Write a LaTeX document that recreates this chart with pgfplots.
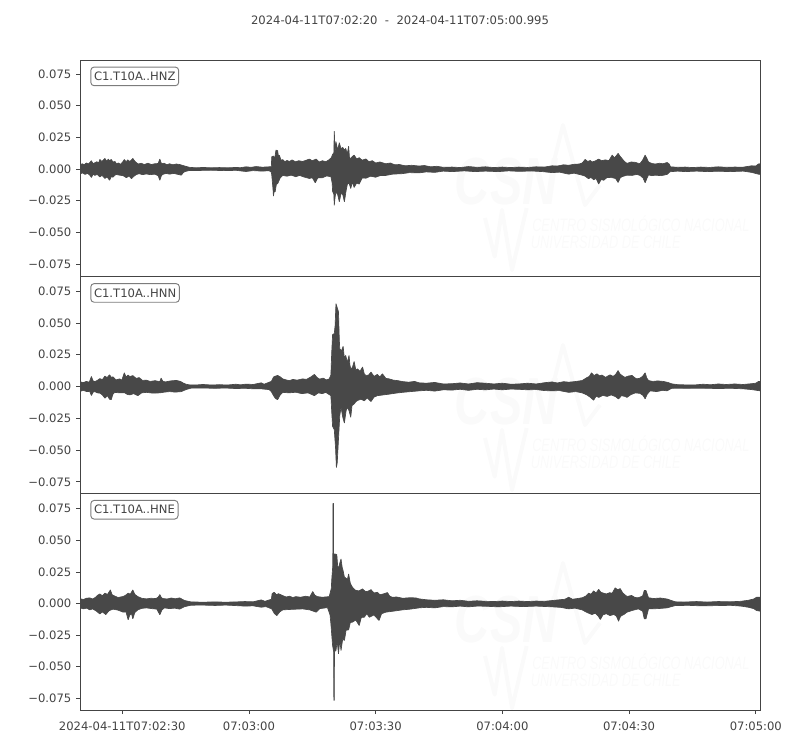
\documentclass[border=0pt]{standalone}
\usepackage{pgfplots}
\pgfplotsset{compat=1.18}
\usepackage{fontspec}
\setmainfont{DejaVu Sans}
\newfontfamily\wmfont{Liberation Sans}
\definecolor{trace}{HTML}{484848}
\definecolor{ink}{HTML}{444444}
\definecolor{wmark}{HTML}{FAFAFA}

\pgfplotsset{
  panel/.style={
    scale only axis,
    width=510pt,
    height=162.4pt,
    xmin=0, xmax=160.995,
    axis line style={ink, line width=0.7pt},
    tick style={ink, line width=0.6pt},
    tick align=outside,
    major tick length=3pt,
    scaled y ticks=false,
    ytick={-0.075,-0.05,-0.025,0,0.025,0.05,0.075},
    yticklabels={−0.075,−0.050,−0.025,0.000,0.025,0.050,0.075},
    ticklabel style={font=\fontsize{8.7}{10}\selectfont, text=ink},
    xticklabel style={yshift=-2.2pt},
    ytick pos=left,
    clip=true,
  },
  trc/.style={fill=trace, draw=trace, line width=0.5pt, line join=bevel, mark=none},
}
\tikzset{
  stn/.style={draw=ink!70, rounded corners=2.5pt, line width=0.7pt, fill=white,
    font=\fontsize{8.7}{10}\selectfont, text=ink, inner xsep=2.4pt, inner ysep=3.7pt,
    anchor=north west},
}
% faint logo behind each panel, dy in pt from the first panel
\newcommand{\wm}[1]{%
  \begin{scope}[yshift=#1]
    \node[text=wmark, font=\wmfont\bfseries\itshape\fontsize{50}{50}\selectfont, anchor=west, inner sep=0pt] at (341pt,426.7pt) {\scalebox{.73}[1]{CSN}};
    \draw[wmark, line width=3pt, line join=round] (414.7pt,438.7pt) -- (422.2pt,468.7pt) -- (438.7pt,408.7pt) -- (450pt,423.7pt);
    \draw[wmark, line width=3pt, line join=round] (363.7pt,399pt) -- (371pt,370pt) -- (376.5pt,405pt) -- (384pt,360pt) -- (395pt,406.5pt);
    \node[text=wmark, font=\wmfont\itshape\fontsize{13.5}{13.5}\selectfont, anchor=west, inner sep=0pt] at (399pt,395pt) {\scalebox{.71}[1]{CENTRO SISMOLÓGICO NACIONAL}};
    \node[text=wmark, font=\wmfont\itshape\fontsize{13.5}{13.5}\selectfont, anchor=west, inner sep=0pt] at (398pt,381pt) {\scalebox{.71}[1]{UNIVERSIDAD DE CHILE}};
  \end{scope}}

\begin{document}
\begin{tikzpicture}[x=1pt,y=1pt]
\path[use as bounding box] (0,0) rectangle (600pt,562.5pt);
\wm{0pt}
\wm{-165pt}
\wm{-328.5pt}
\node[text=ink, font=\fontsize{8.7}{10}\selectfont] at (300pt,547pt) {2024-04-11T07:02:20\ \ -\ \ 2024-04-11T07:05:00.995};

% envelopes of the traces, x in seconds after 07:02:20
\begin{axis}[panel, at={(60pt,355pt)}, anchor=south west, ymin=-0.0849, ymax=0.0860, xtick=\empty]
\addplot[trc] coordinates {(0,.0030)(.5,.0042)(1,.0035)(1.5,.0048)(2,.0040)(2.7,.0066)(3.1,.0042)(3.5,.0050)(4,.0058)(4.4,.0048)(4.7,.0076)(5.2,.0060)(5.9,.0084)(6.3,.0062)(6.7,.0078)(7,.0066)(7.4,.0076)(7.8,.0056)(8.3,.0060)(8.6,.0042)(9.1,.0048)(9.6,.0038)(10.1,.0056)(10.5,.0076)(10.9,.0058)(11.3,.0072)(11.8,.0060)(12.5,.0084)(12.9,.0066)(13.3,.0052)(13.8,.0040)(14.5,.0046)(15.2,.0036)(16.1,.0046)(16.9,.0036)(17.7,.0042)(18.5,.0044)(18.9,.0079)(19.3,.0042)(19.9,.0046)(20.6,.0034)(21.2,.0042)(22,.0034)(22.8,.0040)(23.6,.0036)(24.2,.0030)(24.8,.0024)(25.9,.0014)(27.5,.0010)(29.1,.0013)(31,.0010)(33,.0012)(35,.0010)(36.9,.0013)(38,.0011)(39.3,.0018)(40.5,.0014)(41.7,.0020)(43.2,.0015)(44.8,.0018)(45.3,.0020)(45.4,.0097)(45.8,.0103)(46.1,.0085)(46.4,.0150)(46.8,.0145)(47,.0095)(47.2,.0110)(47.6,.0070)(48,.0075)(48.5,.0058)(49,.0068)(49.6,.0060)(50.2,.0072)(51,.0058)(51.8,.0066)(52.7,.0060)(53.4,.0068)(54.3,.0079)(55,.0066)(55.9,.0079)(56.6,.0056)(57.4,.0066)(58.2,.0058)(59,.0074)(59.5,.0090)(59.8,.0115)(60.1,.0130)(60.2,.0300)(60.4,.0130)(60.6,.0216)(61,.0150)(61.4,.0208)(61.8,.0160)(62.2,.0171)(62.6,.0150)(62.9,.0163)(63.3,.0120)(63.6,.0181)(63.8,.0090)(64.1,.0084)(64.5,.0100)(64.9,.0110)(65.5,.0080)(66.1,.0090)(66.8,.0070)(67.7,.0080)(68.4,.0058)(69.2,.0066)(70,.0048)(71,.0056)(72.4,.0042)(73.5,.0048)(74.5,.0034)(75.6,.0036)(77,.0026)(78.5,.0030)(80.3,.0024)(81.5,.0028)(83,.0018)(84.5,.0022)(86,.0014)(88.1,.0016)(90,.0012)(92,.0020)(94,.0014)(96,.0018)(98,.0012)(100,.0016)(102,.0012)(103.9,.0016)(106,.0013)(108,.0018)(110,.0016)(111.8,.0026)(113,.0024)(114.5,.0034)(115.7,.0030)(117,.0038)(118.2,.0040)(118.9,.0048)(119.6,.0076)(120.2,.0060)(120.8,.0068)(121.2,.0056)(122,.0064)(122.8,.0079)(123.5,.0066)(124.4,.0073)(125.2,.0066)(126,.0110)(126.5,.0090)(127,.0106)(127.4,.0124)(127.9,.0100)(128.3,.0084)(128.9,.0060)(129.5,.0045)(130.5,.0056)(131.5,.0053)(132.1,.0046)(132.6,.0044)(133.2,.0070)(133.8,.0110)(134.2,.0085)(134.6,.0056)(135.4,.0044)(136.2,.0040)(137.2,.0046)(138,.0042)(139,.0052)(139.5,.0040)(139.8,.0018)(141.5,.0014)(143.3,.0016)(145,.0012)(147,.0016)(149,.0013)(151.1,.0018)(153,.0014)(155,.0016)(157,.0015)(159,.0026)(160,.0024)(160.6,.0040)(160.995,.0042)} \closedcycle;
\addplot[trc] coordinates {(0,-.0039)(.6,-.0030)(1.2,-.0042)(1.8,-.0034)(2.3,-.0047)(2.7,-.0066)(3.1,-.0040)(3.5,-.0050)(4.1,-.0042)(4.7,-.0062)(5.2,-.0050)(5.9,-.0074)(6.4,-.0062)(7,-.0088)(7.4,-.0060)(7.8,-.0064)(8.5,-.0042)(9.4,-.0048)(10.2,-.0052)(11,-.0068)(11.6,-.0054)(12.2,-.0076)(12.8,-.0056)(13.3,-.0044)(14,-.0036)(14.8,-.0044)(15.7,-.0038)(16.6,-.0044)(17.7,-.0040)(18.5,-.0052)(18.9,-.0088)(19.3,-.0050)(19.6,-.0042)(20.4,-.0034)(21.2,-.0040)(22.2,-.0034)(23.2,-.0042)(24,-.0048)(24.4,-.0030)(24.8,-.0020)(25.9,-.0011)(28,-.0011)(31,-.0009)(34,-.0012)(37,-.0010)(38.2,-.0015)(39.3,-.0019)(41,-.0012)(43,-.0016)(44.8,-.0013)(45.3,-.0025)(45.4,-.0047)(45.7,-.0160)(45.8,-.0213)(46,-.0170)(46.2,-.0180)(46.5,-.0120)(46.8,-.0115)(47.4,-.0070)(48,-.0050)(49,-.0056)(50,-.0048)(51.1,-.0060)(52,-.0050)(53,-.0062)(54.3,-.0074)(55,-.0068)(55.7,-.0108)(56.3,-.0070)(57.4,-.0068)(58.4,-.0054)(59.4,-.0060)(59.7,-.0110)(59.8,-.0175)(60.1,-.0200)(60.2,-.0287)(60.4,-.0220)(60.6,-.0180)(61,-.0200)(61.4,-.0258)(61.8,-.0192)(62.2,-.0200)(62.6,-.0258)(63,-.0170)(63.3,-.0120)(63.7,-.0110)(64.1,-.0153)(64.5,-.0100)(64.9,-.0145)(65.5,-.0110)(66.1,-.0118)(66.8,-.0070)(67.7,-.0072)(68.8,-.0056)(70,-.0064)(71.2,-.0050)(72.4,-.0050)(74,-.0040)(76.3,-.0036)(78,-.0028)(80.3,-.0030)(82,-.0022)(84,-.0026)(86,-.0016)(88.1,-.0020)(91,-.0014)(93.5,-.0020)(96,-.0016)(99,-.0020)(101.5,-.0014)(103.9,-.0018)(107,-.0015)(109.5,-.0020)(111.8,-.0028)(113.5,-.0024)(115.7,-.0040)(117,-.0032)(118.9,-.0048)(119.6,-.0056)(120.4,-.0076)(121,-.0066)(121.6,-.0084)(122.2,-.0074)(122.8,-.0118)(123.4,-.0082)(124,-.0088)(124.8,-.0066)(126,-.0068)(126.8,-.0074)(127.4,-.0106)(127.9,-.0070)(128.3,-.0060)(129.5,-.0048)(130.7,-.0050)(131.8,-.0042)(132.6,-.0050)(133.3,-.0070)(133.8,-.0108)(134.2,-.0075)(134.6,-.0046)(135.4,-.0052)(136.2,-.0048)(137.6,-.0052)(139,-.0042)(139.7,-.0021)(141.5,-.0016)(143.3,-.0020)(146,-.0016)(148.5,-.0020)(151.1,-.0017)(154,-.0020)(157,-.0016)(159,-.0026)(160.6,-.0040)(160.995,-.0042)} \closedcycle;
\node[stn] at (rel axis cs:0.0152,0.97) {C1.T10A..HNZ};
\end{axis}

\begin{axis}[panel, at={(60pt,192.6pt)}, anchor=south west, ymin=-0.0839, ymax=0.0864, xtick=\empty]
\addplot[trc] coordinates {(0,.0039)(.7,.0030)(1.5,.0040)(2.2,.0034)(2.7,.0079)(3.1,.0044)(3.5,.0038)(4.1,.0048)(4.7,.0062)(5.3,.0054)(5.9,.0082)(6.4,.0070)(7,.0092)(7.4,.0072)(7.8,.0076)(8.5,.0052)(9.4,.0060)(9.9,.0050)(10.5,.0108)(10.9,.0074)(11.4,.0090)(11.8,.0078)(12.5,.0086)(13.3,.0064)(14,.0070)(14.8,.0048)(15.7,.0050)(16.6,.0040)(17.8,.0046)(18.9,.0038)(19.2,.0066)(19.6,.0042)(20.2,.0036)(21.4,.0044)(22.8,.0048)(23.8,.0040)(24.4,.0028)(25.1,.0018)(25.9,.0013)(27.5,.0012)(29.1,.0016)(31,.0012)(33,.0014)(35,.0012)(36.9,.0018)(38,.0013)(39.3,.0019)(41,.0016)(42.9,.0029)(43.6,.0018)(44.8,.0034)(45.3,.0040)(45.8,.0074)(46.3,.0082)(46.8,.0087)(47.4,.0076)(48,.0060)(48.8,.0052)(49.6,.0046)(50.4,.0056)(51.4,.0050)(52.7,.0060)(53.6,.0056)(54.6,.0074)(55.5,.0095)(56.1,.0072)(56.7,.0058)(57.6,.0066)(58.3,.0052)(59,.0060)(59.4,.0090)(59.6,.0271)(59.8,.0408)(60.2,.0416)(60.4,.0480)(60.6,.0652)(60.9,.0620)(61.2,.0587)(61.4,.0360)(61.5,.0297)(61.9,.0280)(62.3,.0316)(62.6,.0220)(62.9,.0245)(63.3,.0190)(63.7,.0245)(63.9,.0170)(64.1,.0139)(64.5,.0150)(64.9,.0197)(65.3,.0130)(65.7,.0139)(66.3,.0120)(66.9,.0153)(67.3,.0100)(67.7,.0087)(68.3,.0090)(68.9,.0113)(69.6,.0080)(70.4,.0095)(71,.0076)(71.6,.0100)(72.4,.0064)(73.2,.0060)(74.2,.0050)(75.3,.0046)(76.3,.0039)(77.8,.0034)(79.2,.0040)(80.3,.0029)(82,.0026)(84,.0032)(86,.0020)(88.1,.0022)(90,.0028)(92,.0020)(94,.0030)(96,.0026)(98,.0020)(100,.0026)(102,.0018)(103.9,.0020)(106,.0026)(108,.0020)(110,.0030)(111.8,.0036)(113,.0028)(114.5,.0038)(115.7,.0034)(117,.0038)(118.9,.0047)(120,.0070)(120.6,.0080)(121.1,.0108)(121.7,.0086)(122.4,.0100)(123,.0084)(123.6,.0090)(124.4,.0072)(125.5,.0092)(126.2,.0080)(126.8,.0094)(127.4,.0126)(127.8,.0100)(128.3,.0087)(129,.0072)(129.8,.0082)(130.7,.0087)(131.3,.0070)(131.8,.0060)(132.6,.0066)(133.2,.0080)(133.8,.0108)(134.2,.0066)(134.6,.0047)(135.6,.0040)(136.8,.0044)(138.1,.0040)(139.2,.0032)(140.1,.0021)(141.6,.0014)(143.3,.0013)(145.5,.0012)(147.5,.0018)(149.3,.0014)(151.1,.0020)(153,.0016)(155,.0020)(157,.0016)(159,.0022)(160,.0026)(160.6,.0039)(160.995,.0040)} \closedcycle;
\addplot[trc] coordinates {(0,-.0039)(.8,-.0030)(1.6,-.0040)(2.3,-.0038)(2.7,-.0071)(3.1,-.0044)(3.5,-.0040)(4.1,-.0050)(4.7,-.0052)(5.3,-.0066)(5.9,-.0092)(6.5,-.0072)(7.0,-.0100)(7.4,-.0103)(7.8,-.0060)(8.2,-.0046)(9.4,-.0050)(10.6,-.0050)(11.2,-.0062)(11.8,-.0066)(12.7,-.0056)(13.7,-.0072)(14.6,-.0050)(15.7,-.0046)(17.2,-.0052)(18.9,-.0050)(20,-.0044)(21.2,-.0040)(22.6,-.0044)(24,-.0040)(25.1,-.0024)(26.3,-.0013)(29,-.0012)(32,-.0014)(34.5,-.0012)(36.9,-.0016)(39,-.0014)(41,-.0018)(42.9,-.0018)(44,-.0022)(44.8,-.0024)(45.3,-.0040)(45.8,-.0071)(46.3,-.0095)(46.8,-.0103)(47.4,-.0066)(48,-.0046)(49.5,-.0050)(51.1,-.0045)(52.5,-.0056)(54,-.0050)(55.5,-.0072)(56.4,-.0050)(57.4,-.0056)(58.2,-.0046)(59.4,-.0072)(59.6,-.0200)(59.8,-.0313)(60.2,-.0339)(60.5,-.0480)(60.7,-.0637)(60.9,-.0600)(61.2,-.0413)(61.5,-.0230)(61.8,-.0163)(62.2,-.0240)(62.6,-.0287)(63,-.0190)(63.3,-.0163)(63.7,-.0190)(64.1,-.0242)(64.4,-.0150)(64.9,-.0137)(65.3,-.0120)(65.7,-.0110)(66.5,-.0100)(67.3,-.0112)(68,-.0090)(68.9,-.0118)(69.6,-.0084)(70.4,-.0072)(71.8,-.0066)(73.2,-.0060)(74.8,-.0052)(76.3,-.0046)(78.3,-.0040)(80.3,-.0034)(82,-.0030)(84,-.0036)(86,-.0026)(88.1,-.0028)(90,-.0022)(92,-.0030)(94,-.0022)(96,-.0026)(98,-.0020)(100,-.0026)(102,-.0020)(103.9,-.0022)(106,-.0026)(108,-.0024)(110,-.0032)(111.8,-.0034)(113.5,-.0032)(115.7,-.0046)(117.4,-.0040)(118.9,-.0050)(120,-.0066)(120.8,-.0084)(121.6,-.0108)(122.2,-.0076)(122.8,-.0086)(123.8,-.0070)(124.8,-.0078)(125.8,-.0066)(126.8,-.0080)(127.5,-.0098)(128.2,-.0072)(129,-.0078)(129.5,-.0086)(130.4,-.0064)(131.5,-.0050)(132.6,-.0054)(133.3,-.0070)(133.8,-.0097)(134.3,-.0060)(135,-.0034)(136.5,-.0040)(138,-.0030)(139,-.0034)(140.1,-.0014)(141.6,-.0013)(143.3,-.0014)(147,-.0013)(151.1,-.0016)(154,-.0014)(157,-.0018)(159,-.0024)(160.6,-.0032)(160.995,-.0034)} \closedcycle;
\node[stn] at (rel axis cs:0.0152,0.97) {C1.T10A..HNN};
\end{axis}

\begin{axis}[panel, at={(60pt,30pt)}, anchor=south west, ymin=-0.0842, ymax=0.0871,
  xtick={10,40,70,100,130,160},
  xticklabels={2024-04-11T07:02:30,07:03:00,07:03:30,07:04:00,07:04:30,07:05:00},
  xtick pos=bottom]
\addplot[trc] coordinates {(0,.0039)(.8,.0032)(1.5,.0042)(2.3,.0045)(3,.0036)(3.7,.0050)(4.2,.0066)(4.7,.0076)(5.3,.0062)(5.9,.0082)(6.5,.0072)(7.2,.0108)(7.6,.0070)(8.2,.0060)(9,.0048)(9.6,.0052)(10.2,.0056)(10.8,.0066)(11.4,.0082)(11.9,.0074)(12.5,.0108)(13,.0072)(13.7,.0055)(14.6,.0042)(15.7,.0037)(16.8,.0042)(18,.0040)(18.5,.0050)(18.9,.0071)(19.3,.0046)(19.6,.0040)(20.6,.0036)(21.6,.0044)(22.6,.0038)(23.6,.0045)(24.2,.0034)(24.8,.0024)(26.3,.0013)(29,.0011)(32,.0013)(34.5,.0011)(36.9,.0013)(39,.0016)(41,.0014)(42.9,.0029)(43.8,.0018)(45.3,.0034)(45.5,.0080)(46,.0089)(46.5,.0070)(47,.0078)(48,.0063)(48.8,.0052)(49.6,.0058)(50.4,.0048)(51.1,.0055)(52.2,.0050)(53.4,.0058)(54.4,.0052)(55.1,.0095)(55.6,.0066)(56.2,.0055)(57.4,.0050)(59,.0055)(59.5,.0120)(59.6,.0187)(59.85,.0300)(59.9,.0792)(60,.0792)(60.05,.0392)(60.4,.0392)(60.8,.0387)(61,.0300)(61.2,.0274)(61.5,.0320)(61.8,.0353)(62.1,.0280)(62.3,.0260)(62.6,.0210)(62.9,.0203)(63.3,.0190)(63.6,.0234)(64,.0160)(64.5,.0129)(65.2,.0106)(66,.0100)(66.9,.0116)(67.6,.0094)(68.2,.0098)(68.9,.0110)(69.6,.0084)(70.4,.0089)(71,.0070)(71.8,.0076)(72.8,.0087)(73.3,.0060)(73.9,.0050)(75,.0052)(76.4,.0042)(78,.0046)(79.5,.0045)(80.3,.0037)(82,.0030)(84,.0026)(86,.0030)(88.1,.0022)(90,.0026)(92,.0018)(94,.0022)(96,.0018)(98,.0016)(100,.0020)(102,.0016)(103.9,.0020)(106,.0016)(108,.0020)(110,.0018)(111.8,.0024)(113.5,.0030)(114.8,.0034)(115.7,.0050)(116.6,.0034)(117.8,.0040)(118.9,.0046)(119.7,.0058)(120.4,.0082)(121,.0074)(121.6,.0100)(122.2,.0084)(122.8,.0113)(123.3,.0090)(124,.0082)(124.6,.0076)(125.4,.0086)(126,.0082)(126.7,.0124)(127.3,.0110)(127.9,.0118)(128.5,.0084)(129.5,.0056)(130.6,.0064)(131.4,.0048)(132.2,.0046)(133.2,.0060)(133.6,.0103)(134,.0103)(134.6,.0046)(135.8,.0040)(137.4,.0044)(139,.0036)(140.9,.0014)(143,.0012)(146,.0016)(148.5,.0012)(151.1,.0016)(154,.0014)(156.5,.0018)(158.2,.0026)(159.5,.0036)(160.2,.0050)(160.995,.0050)} \closedcycle;
\addplot[trc] coordinates {(0,-.0034)(.8,-.0042)(1.6,-.0036)(2.3,-.0050)(3,-.0042)(3.8,-.0058)(4.7,-.0082)(5.3,-.0066)(6.1,-.0087)(6.9,-.0056)(7.8,-.0044)(9,-.0052)(10.2,-.0068)(10.9,-.0066)(11.4,-.0129)(11.8,-.0090)(12.2,-.0080)(12.5,-.0121)(13,-.0070)(13.7,-.0050)(14.6,-.0038)(15.7,-.0034)(17,-.0040)(18.2,-.0044)(18.9,-.0089)(19.4,-.0050)(20,-.0034)(21.2,-.0040)(22.4,-.0036)(23.6,-.0044)(24.2,-.0034)(24.8,-.0024)(26.3,-.0013)(29,-.0012)(32,-.0015)(34.5,-.0012)(36.9,-.0016)(39,-.0020)(41,-.0018)(42.9,-.0029)(44,-.0024)(45.4,-.0042)(46,-.0078)(46.6,-.0095)(47.3,-.0066)(48,-.0050)(50,-.0046)(52.7,-.0042)(54.4,-.0050)(55.9,-.0068)(56.8,-.0040)(58.6,-.0032)(59.2,-.0090)(59.4,-.0160)(59.8,-.0331)(60.05,-.0380)(60.1,-.0766)(60.2,-.0766)(60.25,-.0380)(60.6,-.0371)(60.9,-.0300)(61.2,-.0397)(61.5,-.0290)(61.8,-.0371)(62.2,-.0280)(62.6,-.0292)(63,-.0210)(63.6,-.0208)(64,-.0150)(64.5,-.0147)(65.3,-.0130)(66.1,-.0174)(66.6,-.0110)(67.3,-.0108)(67.9,-.0080)(68.5,-.0108)(69.6,-.0090)(70.8,-.0134)(71.4,-.0080)(72.4,-.0068)(74.2,-.0060)(76.3,-.0050)(78.2,-.0044)(80.3,-.0034)(82,-.0030)(84,-.0034)(86,-.0024)(88.1,-.0026)(90,-.0020)(92,-.0026)(94,-.0020)(96,-.0021)(99,-.0026)(102,-.0020)(105,-.0024)(108,-.0020)(111.8,-.0026)(113.8,-.0030)(115.7,-.0042)(117.2,-.0036)(118.9,-.0050)(120,-.0070)(121.2,-.0087)(122,-.0076)(122.7,-.0100)(123.2,-.0126)(123.8,-.0090)(124.6,-.0080)(125.5,-.0095)(126.4,-.0086)(127,-.0100)(127.5,-.0139)(128,-.0100)(128.8,-.0086)(129.5,-.0068)(130.8,-.0054)(132.2,-.0042)(133.2,-.0060)(133.6,-.0121)(134,-.0121)(134.6,-.0042)(136.8,-.0040)(139,-.0034)(140.9,-.0016)(144,-.0014)(147,-.0018)(151.1,-.0016)(154,-.0014)(156.5,-.0020)(158.2,-.0029)(159.5,-.0040)(160.2,-.0055)(160.995,-.0060)} \closedcycle;
\node[stn] at (rel axis cs:0.0152,0.97) {C1.T10A..HNE};
\end{axis}
\end{tikzpicture}
\end{document}
